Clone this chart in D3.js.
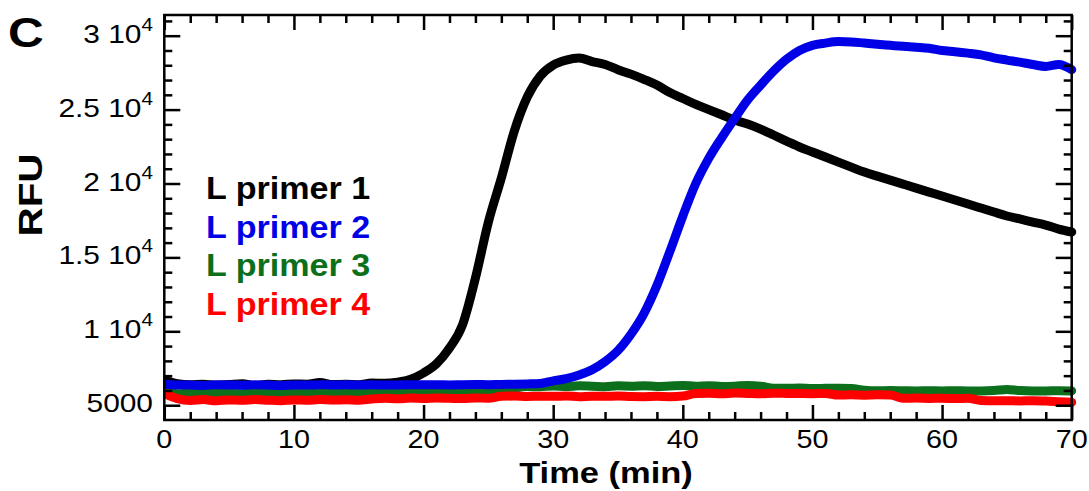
<!DOCTYPE html>
<html>
<head>
<meta charset="utf-8">
<script src="https://cdn.jsdelivr.net/npm/d3@7"></script>
<style>
body { margin: 0; background: #fff; }
text { font-family: Arial, "Liberation Sans", sans-serif; fill: #000; }
</style>
</head>
<body>
<svg id="chart" width="1089" height="491"></svg>
<script>
// time in minutes
const times = [0,1,2,3,4,5,6,7,8,9,10,11,12,13,14,15,16,17,18,19,20,
  21,22,23,24,25,26,27,28,29,30,31,32,33,34,35,36,37,38,39,40,
  41,42,43,44,45,46,47,48,49,50,51,52,53,54,55,56,57,58,59,60,
  61,62,63,64,65,66,67,68,69,70];

// RFU, one value per minute
const primer1 = [6700,6450,6380,6420,6350,6400,6460,6330,6420,6390,6440,
  6420,6530,6400,6420,6390,6500,6480,6560,6760,7180,
  7800,8870,10430,13600,17390,20370,23550,25850,27270,28010,
  28350,28490,28250,28050,27700,27400,27050,26660,26150,25750,
  25350,25000,24650,24300,24020,23680,23280,22870,22470,22130,
  21790,21450,21110,20770,20500,20230,19960,19690,19420,19150,
  18880,18610,18340,18070,17800,17600,17390,17190,16920,16720];

const primer2 = [6420,6370,6360,6340,6380,6370,6350,6380,6360,6340,6370,
  6360,6390,6370,6380,6360,6380,6370,6370,6390,6380,
  6390,6370,6390,6400,6390,6410,6420,6440,6470,6650,
  6800,7050,7400,7950,8700,9800,11200,13100,15400,17800,
  20000,21700,23100,24400,25650,26650,27600,28400,29000,29350,
  29500,29600,29580,29500,29420,29350,29280,29220,29150,29000,
  28920,28820,28700,28500,28350,28210,28050,27920,28050,27700];

const primer3 = [5900,5780,5820,5790,5830,5800,5780,5840,5800,5820,5790,
  5830,5810,5840,5820,5850,5870,5900,5920,5900,5930,
  5910,5920,5900,5930,5920,5960,6150,6260,6250,6300,
  6270,6310,6290,6250,6310,6290,6320,6270,6300,6330,
  6290,6320,6270,6290,6340,6290,6150,6140,6160,6130,
  6140,6150,6130,6020,5980,5990,5980,5970,5980,5970,
  5980,5970,5970,5990,6060,5990,5970,5970,5980,5970];

const primer4 = [5800,5450,5320,5380,5300,5360,5330,5380,5340,5310,5360,
  5340,5380,5350,5370,5340,5420,5470,5440,5480,5460,
  5490,5470,5450,5490,5470,5600,5620,5590,5610,5600,
  5620,5580,5610,5600,5620,5590,5580,5600,5580,5620,
  5790,5810,5780,5820,5800,5780,5810,5800,5790,5780,
  5800,5690,5700,5680,5700,5690,5470,5480,5460,5470,
  5450,5470,5320,5300,5310,5290,5300,5280,5240,5200];

const seriesNames = ["L primer 1", "L primer 2", "L primer 3", "L primer 4"];
const seriesColors = ["#000000", "#0000e6", "#0c6f1c", "#ff0000"];
const seriesValues = [primer1, primer2, primer3, primer4];

const xMajorTicks = [0,10,20,30,40,50,60,70];
const xMinorTicks = [2,4,6,8,12,14,16,18,22,24,26,28,32,34,36,38,42,44,46,48,52,54,56,58,62,64,66,68];
const yMajorTicks = [5000,10000,15000,20000,25000,30000];
const yMinorTicks = [6000,7000,8000,9000,11000,12000,13000,14000,16000,17000,18000,19000,
  21000,22000,23000,24000,26000,27000,28000,29000,31000];

const svg = d3.select("#chart");
const plotLeft = 164.3, plotRight = 1071.7, plotTop = 15, plotBottom = 420;
const sx = 1.15; // the figure's text is stretched sideways

const x = d3.scaleLinear().domain([0, 70]).range([plotLeft, plotRight]);
const y = d3.scaleLinear().domain([4000, 31400]).range([plotBottom, plotTop]);

// lines first, frame on top
const line = d3.line()
  .x(d => x(d[0]))
  .y(d => y(d[1]))
  .curve(d3.curveMonotoneX);

const drawOrder = [0, 2, 3, 1];
drawOrder.forEach(i => {
  const pts = times.map((t, k) => [t, seriesValues[i][k]]);
  svg.append("path")
    .datum(pts)
    .attr("d", line)
    .attr("fill", "none")
    .attr("stroke", seriesColors[i])
    .attr("stroke-width", 9)
    .attr("stroke-linejoin", "round")
    .attr("stroke-linecap", "round");
});

// cover whatever pokes outside the frame
svg.append("rect").attr("x", 0).attr("y", plotBottom + 1).attr("width", 1089).attr("height", 70).attr("fill", "#fff");
svg.append("rect").attr("x", 0).attr("y", 0).attr("width", plotLeft - 1).attr("height", 491).attr("fill", "#fff");

function tickAxis(axis, translate, values, size) {
  const g = svg.append("g")
    .attr("transform", translate)
    .call(axis.tickValues(values).tickSize(size).tickSizeOuter(0).tickFormat(""));
  g.select(".domain").remove();
  g.selectAll(".tick line").attr("stroke", "#000").attr("stroke-width", 2.5);
  return g;
}

tickAxis(d3.axisBottom(x), `translate(0,${plotBottom})`, xMajorTicks, -15);
tickAxis(d3.axisBottom(x), `translate(0,${plotBottom})`, xMinorTicks, -8);
tickAxis(d3.axisTop(x), `translate(0,${plotTop})`, xMajorTicks, -15);
tickAxis(d3.axisTop(x), `translate(0,${plotTop})`, xMinorTicks, -8);
tickAxis(d3.axisLeft(y), `translate(${plotLeft},0)`, yMajorTicks, -16);
tickAxis(d3.axisLeft(y), `translate(${plotLeft},0)`, yMinorTicks, -8);
tickAxis(d3.axisRight(y), `translate(${plotRight},0)`, yMajorTicks, -16);
tickAxis(d3.axisRight(y), `translate(${plotRight},0)`, yMinorTicks, -8);

svg.append("rect")
  .attr("x", plotLeft).attr("y", plotTop)
  .attr("width", plotRight - plotLeft).attr("height", plotBottom - plotTop)
  .attr("fill", "none").attr("stroke", "#000").attr("stroke-width", 2.5);

// x tick labels
xMajorTicks.forEach(v => {
  svg.append("text")
    .attr("transform", `translate(${x(v)},448) scale(${sx},1)`)
    .attr("text-anchor", "middle")
    .attr("font-size", 25)
    .text(v);
});

// y tick labels, "a 10^4" style
yMajorTicks.forEach(v => {
  const t = svg.append("text")
    .attr("transform", `translate(153,${y(v) + 7}) scale(${sx},1)`)
    .attr("text-anchor", "end")
    .attr("font-size", 26);
  if (v < 10000) {
    t.text(v);
  } else {
    t.append("tspan").text(`${v / 10000} 10`);
    t.append("tspan").attr("font-size", 18).attr("dy", -12).text("4");
  }
});

svg.append("text")
  .attr("transform", `translate(606,483) scale(${sx},1)`)
  .attr("text-anchor", "middle")
  .attr("font-size", 30)
  .attr("font-weight", "bold")
  .text("Time (min)");

svg.append("text")
  .attr("transform", `translate(42,195) rotate(-90) scale(1.3,1.1)`)
  .attr("text-anchor", "middle")
  .attr("font-size", 31)
  .attr("font-weight", "bold")
  .text("RFU");

svg.append("text")
  .attr("transform", `translate(8,47) scale(${sx},1)`)
  .attr("font-size", 43)
  .attr("font-weight", "bold")
  .text("C");

// legend
seriesNames.forEach((name, i) => {
  svg.append("text")
    .attr("transform", `translate(206,${199 + i * 38.7}) scale(1.1,1)`)
    .attr("font-size", 31)
    .attr("font-weight", "bold")
    .style("fill", seriesColors[i])
    .text(name);
});
</script>
</body>
</html>
